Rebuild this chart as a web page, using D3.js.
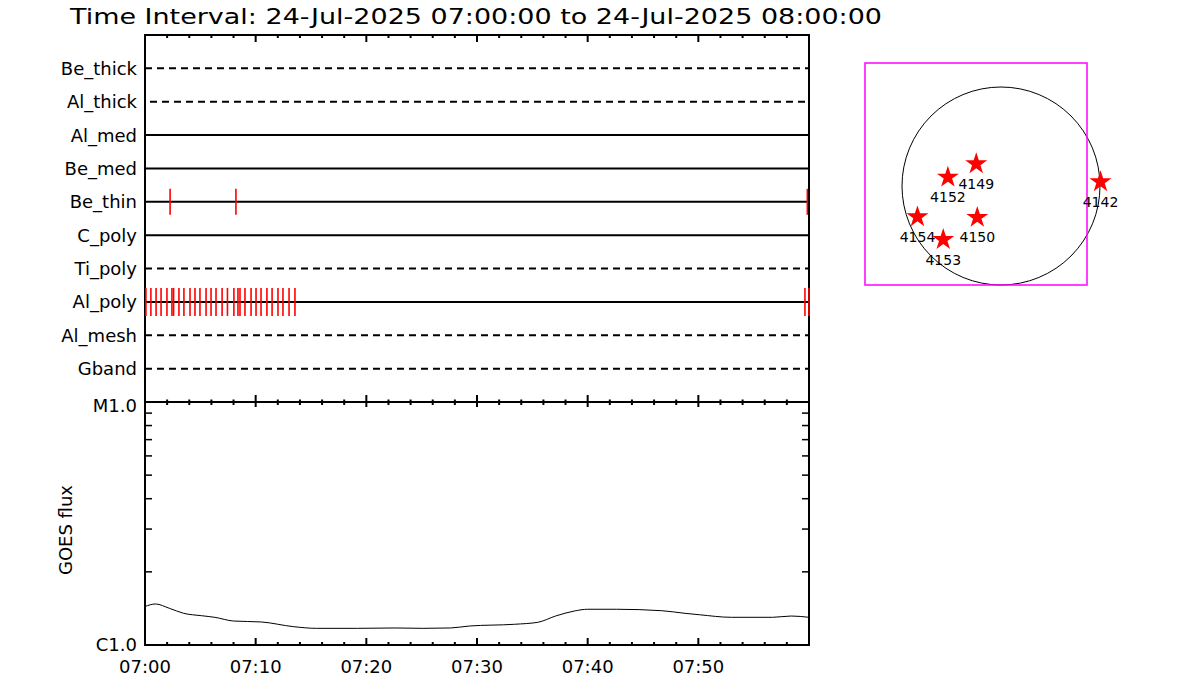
<!DOCTYPE html>
<html>
<head>
<meta charset="utf-8">
<script src="https://cdn.jsdelivr.net/npm/d3@7"></script>
<style>
  body { margin: 0; background: #fff; }
  svg { display: block; }
  text { font-family: "DejaVu Sans", sans-serif; fill: #000; }
</style>
</head>
<body>
<svg id="chart" width="1200" height="700"></svg>
<script>
// ---- data ----
var titleText = "Time Interval: 24-Jul-2025 07:00:00 to 24-Jul-2025 08:00:00";
var startTime = Date.UTC(2025, 6, 24, 7, 0, 0);
var endTime = Date.UTC(2025, 6, 24, 8, 0, 0);

var filters = ["Be_thick", "Al_thick", "Al_med", "Be_med", "Be_thin",
               "C_poly", "Ti_poly", "Al_poly", "Al_mesh", "Gband"];
// solid line = filter in use during the interval, dashed = not used
var filterUsed = [false, false, true, true, true, true, false, true, false, false];

// exposure times, seconds after 07:00:00
var beThinExp = [136, 493, 3591];
var alPolyExp = [5, 32, 60, 87, 119, 146, 155, 184, 211, 244, 271, 298, 331, 358,
                 385, 418, 447, 482, 504, 515, 542, 575, 602, 629, 661, 689, 721,
                 748, 781, 813, 3578, 3600];

// GOES flux, minutes after 07:00 and flux in W/m^2
var goesMin  = [0, 0.95, 2.2, 3.5, 5.1, 6.3, 8.0, 10.5, 13.4, 15.5, 19.2, 22.6, 25.1, 27.6,
                29.3, 33.4, 35.5, 37.1, 38.8, 40.0, 42.6, 46.7, 48.8, 50.1, 53.0, 56.7, 58.4, 60];
var goesFlux = [1.44e-6, 1.475e-6, 1.416e-6, 1.35e-6, 1.32e-6, 1.30e-6, 1.255e-6, 1.244e-6,
                1.19e-6, 1.171e-6, 1.171e-6, 1.175e-6, 1.171e-6, 1.175e-6, 1.197e-6, 1.217e-6,
                1.24e-6, 1.316e-6, 1.38e-6, 1.403e-6, 1.403e-6, 1.384e-6, 1.35e-6, 1.332e-6,
                1.30e-6, 1.30e-6, 1.316e-6, 1.30e-6];
var goesTickLabels = ["C1.0", "M1.0"];

// active regions on the disk (solar X/Y in arcsec)
var arNames = ["4149", "4152", "4154", "4150", "4153", "4142"];
var arX = [-240, -515, -810, -230, -560, 965];
var arY = [ 215,  85, -300, -305, -520,  40];

// ---- layout ----
var svg = d3.select("#chart");
var left = 145, right = 809;
var topY = 35, midY = 402, botY = 645;

var x = d3.scaleUtc().domain([startTime, endTime]).range([left, right]);
var rowY = d3.scalePoint().domain(filters).range([topY, midY]).padding(1);
var yFlux = d3.scaleLog().domain([1e-6, 1e-5]).range([botY, midY]);

// title
svg.append("text")
    .attr("x", 70).attr("y", 24)
    .attr("textLength", 812).attr("lengthAdjust", "spacingAndGlyphs")
    .style("font-size", "22px")
    .text(titleText);

// ---- filter panel ----
var rows = svg.append("g");
rows.selectAll("line")
    .data(filters)
    .enter()
    .append("line")
    .attr("x1", function(d, i) { return d === "Al_thick" ? left + 5 : left; })
    .attr("x2", right)
    .attr("y1", function(d) { return rowY(d); })
    .attr("y2", function(d) { return rowY(d); })
    .attr("stroke", "#000")
    .attr("stroke-width", 2)
    .attr("stroke-dasharray", function(d, i) { return filterUsed[i] ? null : "7,5"; });

rows.selectAll("text")
    .data(filters)
    .enter()
    .append("text")
    .attr("x", 137)
    .attr("y", function(d) { return rowY(d); })
    .attr("dy", "0.36em")
    .attr("text-anchor", "end")
    .style("font-size", "18px")
    .text(function(d) { return d; });

// ---- GOES panel ----
var goesLine = d3.line()
    .x(function(d, i) { return x(startTime + goesMin[i] * 60000); })
    .y(function(d) { return yFlux(d); })
    .curve(d3.curveMonotoneX);

svg.append("path")
    .datum(goesFlux)
    .attr("d", goesLine)
    .attr("fill", "none")
    .attr("stroke", "#000")
    .attr("stroke-width", 1);

// frames
svg.append("rect")
    .attr("x", left).attr("y", topY)
    .attr("width", right - left).attr("height", botY - topY)
    .attr("fill", "none").attr("stroke", "#000").attr("stroke-width", 2);
svg.append("line")
    .attr("x1", left).attr("x2", right).attr("y1", midY).attr("y2", midY)
    .attr("stroke", "#000").attr("stroke-width", 2);

// time ticks
var minorTicks = d3.utcMinute.every(2).range(startTime, endTime + 1);
var majorTicks = d3.utcMinute.every(10).range(startTime, endTime);
function timeTicks(yPos, dirMajor, dirMinor) {
    var g = svg.append("g");
    g.selectAll("line")
        .data(minorTicks)
        .enter()
        .append("line")
        .attr("x1", function(d) { return x(d); })
        .attr("x2", function(d) { return x(d); })
        .attr("y1", function(d) { return yPos + (d.getUTCMinutes() % 10 === 0 ? dirMajor[0] : dirMinor[0]); })
        .attr("y2", function(d) { return yPos + (d.getUTCMinutes() % 10 === 0 ? dirMajor[1] : dirMinor[1]); })
        .attr("stroke", "#000")
        .attr("stroke-width", 2);
}
timeTicks(topY, [0, 7], [0, 3]);
timeTicks(midY, [-7, 5], [-2.5, 3]);
timeTicks(botY, [-7, 0], [-3, 0]);

svg.append("g")
    .selectAll("text")
    .data(majorTicks)
    .enter()
    .append("text")
    .attr("x", function(d) { return x(d); })
    .attr("y", 667)
    .attr("dy", "0.36em")
    .attr("text-anchor", "middle")
    .style("font-size", "18px")
    .text(d3.utcFormat("%H:%M"));

// flux ticks (log minor)
var fluxTicks = yFlux.ticks().filter(function(v) { return v > 1.01e-6 && v < 0.99e-5; });
var ft = svg.append("g");
ft.selectAll("line.l")
    .data(fluxTicks)
    .enter()
    .append("line")
    .attr("x1", left).attr("x2", left + 7)
    .attr("y1", function(d) { return yFlux(d); })
    .attr("y2", function(d) { return yFlux(d); })
    .attr("stroke", "#000").attr("stroke-width", 1.5);
ft.selectAll("line.r")
    .data(fluxTicks)
    .enter()
    .append("line")
    .attr("x1", right - 7).attr("x2", right)
    .attr("y1", function(d) { return yFlux(d); })
    .attr("y2", function(d) { return yFlux(d); })
    .attr("stroke", "#000").attr("stroke-width", 1.5);

svg.append("g")
    .selectAll("text")
    .data(yFlux.domain())
    .enter()
    .append("text")
    .attr("x", 137)
    .attr("y", function(d, i) { return yFlux(d) + (i === 1 ? 4 : 0); })
    .attr("dy", "0.36em")
    .attr("text-anchor", "end")
    .style("font-size", "18px")
    .text(function(d, i) { return goesTickLabels[i]; });

svg.append("text")
    .attr("transform", "translate(72,530) rotate(-90)")
    .attr("text-anchor", "middle")
    .style("font-size", "18px")
    .text("GOES flux");

// exposure marks, drawn over the frame
function drawExposures(list, name, half) {
    svg.append("g")
        .selectAll("line")
        .data(list)
        .enter()
        .append("line")
        .attr("x1", function(s) { return x(startTime + s * 1000); })
        .attr("x2", function(s) { return x(startTime + s * 1000); })
        .attr("y1", rowY(name) - half)
        .attr("y2", rowY(name) + half)
        .attr("stroke", "#ff0000")
        .attr("stroke-width", 1.6);
}
drawExposures(beThinExp, "Be_thin", 13);
drawExposures(alPolyExp, "Al_poly", 14);

// ---- disk panel ----
var boxL = 865, boxT = 63, boxS = 222;
// arcsec -> px, disk center and radius
var sunR = 99, sunCx = 1001, sunCy = 186;
var sx = d3.scaleLinear().domain([-960, 960]).range([sunCx - sunR, sunCx + sunR]);
var sy = d3.scaleLinear().domain([-960, 960]).range([sunCy + sunR, sunCy - sunR]);

svg.append("circle")
    .attr("cx", sx(0)).attr("cy", sy(0)).attr("r", sx(960) - sx(0))
    .attr("fill", "none").attr("stroke", "#000").attr("stroke-width", 1);

svg.append("rect")
    .attr("x", boxL).attr("y", boxT).attr("width", boxS).attr("height", boxS)
    .attr("fill", "none").attr("stroke", "#ff00ff").attr("stroke-width", 1.5);

var star = d3.symbol().type(d3.symbolStar).size(150);
var ars = svg.append("g")
    .selectAll("g")
    .data(arNames)
    .enter()
    .append("g")
    .attr("transform", function(d, i) { return "translate(" + sx(arX[i]) + "," + sy(arY[i]) + ")"; });
ars.append("path")
    .attr("d", star)
    .attr("fill", "#ff0000");
ars.append("text")
    .attr("y", 20)
    .attr("dy", "0.36em")
    .attr("text-anchor", "middle")
    .style("font-size", "14px")
    .text(function(d) { return d; });
</script>
</body>
</html>
